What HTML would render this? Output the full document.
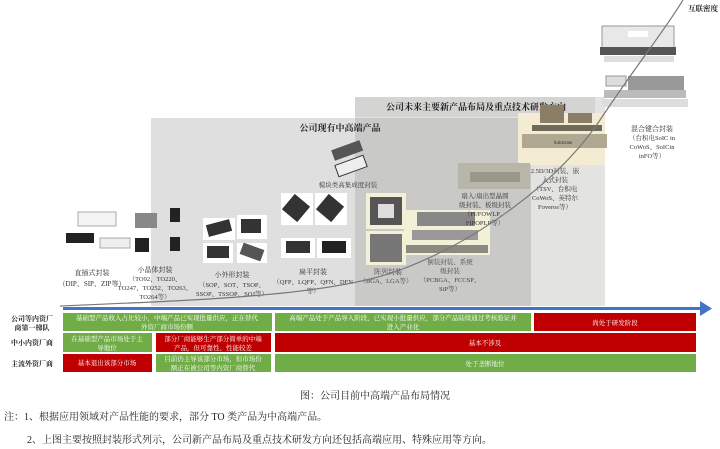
<!DOCTYPE html>
<html><head><meta charset="utf-8"><style>
html,body{margin:0;padding:0;background:#fff;}
svg{display:block;font-family:"Liberation Serif","Noto Serif CJK SC","Noto Sans CJK SC",serif;}
</style></head><body>
<svg width="720" height="449" viewBox="0 0 720 449" xmlns="http://www.w3.org/2000/svg">
<rect x="151" y="118" width="380" height="188" fill="#dedfde"/>
<rect x="355" y="97" width="250" height="209" fill="#e3e3e1"/>
<rect x="355" y="118" width="176" height="188" fill="#c9cac8"/>
<rect x="355" y="97" width="240" height="20" fill="#d4d4d2"/>
<rect x="518" y="113" width="87" height="52" fill="#f3ecd2"/>
<text x="476" y="110" font-size="9" font-weight="bold" text-anchor="middle" fill="#222">公司未来主要新产品布局及重点技术研发方向</text>
<text x="340" y="131" font-size="9" font-weight="bold" text-anchor="middle" fill="#222">公司现有中高端产品</text>

<rect x="78" y="212" width="38" height="14" fill="#f4f4f4" stroke="#aaa"/>
<rect x="66" y="233" width="28" height="10" fill="#222"/>
<rect x="100" y="238" width="30" height="10" fill="#eee" stroke="#aaa"/>
<text x="92" y="275" font-size="7" text-anchor="middle" fill="#333">直插式封装</text>
<text x="92" y="286" font-size="7" text-anchor="middle" fill="#333">（DIP、SIP、ZIP等）</text>
<rect x="135" y="213" width="22" height="15" fill="#888"/>
<rect x="170" y="208" width="10" height="14" fill="#222"/>
<rect x="135" y="238" width="14" height="14" fill="#222"/>
<rect x="170" y="237" width="10" height="14" fill="#222"/>
<text x="155" y="272" font-size="7" text-anchor="middle" fill="#333">小晶体封装</text>
<text x="155" y="281" font-size="6.5" text-anchor="middle" fill="#333">（TO92、TO220、</text>
<text x="155" y="290" font-size="6.5" text-anchor="middle" fill="#333">TO247、TO252、TO263、</text>
<text x="155" y="299" font-size="6.5" text-anchor="middle" fill="#333">TO264等）</text>
<rect x="203" y="218" width="32" height="22" fill="#fff"/>
<rect x="207" y="222" width="24" height="12" fill="#333" transform="rotate(-15 219 228)"/>
<rect x="237" y="215" width="30" height="24" fill="#fff"/>
<rect x="241" y="219" width="20" height="14" fill="#333"/>
<rect x="203" y="243" width="30" height="20" fill="#fff"/>
<rect x="207" y="246" width="22" height="12" fill="#333"/>
<rect x="237" y="243" width="30" height="20" fill="#fff"/>
<rect x="241" y="246" width="22" height="12" fill="#555" transform="rotate(20 252 252)"/>
<text x="232" y="277" font-size="7" text-anchor="middle" fill="#333">小外形封装</text>
<text x="232" y="287" font-size="6.5" text-anchor="middle" fill="#333">（SOP、SOT、TSOP、</text>
<text x="232" y="296" font-size="6.5" text-anchor="middle" fill="#333">SSOP、TSSOP、SOJ等）</text>
<rect x="281" y="193" width="32" height="32" fill="#fff"/>
<rect x="286" y="198" width="20" height="20" fill="#333" transform="rotate(40 296 208)"/>
<rect x="315" y="193" width="32" height="32" fill="#fff"/>
<rect x="320" y="198" width="20" height="20" fill="#333" transform="rotate(40 330 208)"/>
<rect x="281" y="238" width="34" height="20" fill="#fff"/>
<rect x="286" y="241" width="24" height="12" fill="#333"/>
<rect x="317" y="238" width="34" height="20" fill="#fff"/>
<rect x="322" y="241" width="24" height="12" fill="#222"/>
<text x="313" y="274" font-size="7" text-anchor="middle" fill="#333">扁平封装</text>
<text x="313" y="284" font-size="6.5" text-anchor="middle" fill="#333">（QFP、LQFP、QFN、DFN</text>
<text x="313" y="293" font-size="6.5" text-anchor="middle" fill="#333">等）</text>
<rect x="332" y="145" width="30" height="11" fill="#555" transform="rotate(-20 347 150)"/>
<rect x="336" y="160" width="30" height="12" fill="#eee" stroke="#333" transform="rotate(-20 351 166)"/>
<text x="348" y="187" font-size="6.5" text-anchor="middle" fill="#333">模块类高集成度封装</text>
<rect x="366" y="193" width="40" height="36" fill="#f3f0d8"/>
<rect x="370" y="197" width="32" height="28" fill="#555"/>
<rect x="378" y="204" width="16" height="14" fill="#ddd"/>
<rect x="366" y="231" width="40" height="34" fill="#f3f0d8"/>
<rect x="370" y="234" width="32" height="28" fill="#777"/>
<text x="388" y="274" font-size="7" text-anchor="middle" fill="#444">阵列封装</text>
<text x="386" y="283" font-size="6.5" text-anchor="middle" fill="#444">（BGA、LGA等）</text>
<rect x="404" y="210" width="86" height="45" fill="#f3f0d8"/>
<rect x="417" y="212" width="58" height="14" fill="#888"/>
<rect x="412" y="230" width="66" height="10" fill="#999"/>
<rect x="406" y="245" width="82" height="8" fill="#8a8a80"/>
<text x="450" y="264" font-size="6.5" text-anchor="middle" fill="#444">倒装封装、系统</text>
<text x="450" y="273" font-size="6.5" text-anchor="middle" fill="#444">级封装</text>
<text x="450" y="282" font-size="6.5" text-anchor="middle" fill="#444">（PCBGA、FCCSP、</text>
<text x="450" y="291" font-size="6.5" text-anchor="middle" fill="#444">SiP等）</text>
<rect x="458" y="163" width="72" height="26" fill="#b8b6a8"/>
<rect x="470" y="172" width="50" height="10" fill="#9a9888"/>
<text x="485" y="198" font-size="6.5" text-anchor="middle" fill="#333">扇入/扇出型晶圆</text>
<text x="485" y="207" font-size="6.5" text-anchor="middle" fill="#333">级封装、板级封装</text>
<text x="485" y="216" font-size="6.5" text-anchor="middle" fill="#333">（FI/FOWLP、</text>
<text x="485" y="225" font-size="6.5" text-anchor="middle" fill="#333">FIPOPLP等）</text>
<rect x="540" y="105" width="24" height="18" fill="#8a7e66"/>
<rect x="568" y="113" width="24" height="10" fill="#8a7e66"/>
<rect x="532" y="125" width="70" height="6" fill="#6d6a5a"/>
<rect x="522" y="134" width="85" height="14" fill="#b0a890"/>
<text x="563" y="144" font-size="5" text-anchor="middle" fill="#333">Substrate</text>
<text x="555" y="173" font-size="6.5" text-anchor="middle" fill="#333">2.5D/3D封装、嵌</text>
<text x="555" y="182" font-size="6.5" text-anchor="middle" fill="#333">入式封装</text>
<text x="555" y="191" font-size="6.5" text-anchor="middle" fill="#333">（TSV、台积电</text>
<text x="555" y="200" font-size="6.5" text-anchor="middle" fill="#333">CoWoS、英特尔</text>
<text x="555" y="209" font-size="6.5" text-anchor="middle" fill="#333">Foveros等）</text>
<rect x="602" y="26" width="72" height="22" fill="#e8e8e8" stroke="#999"/>
<rect x="628" y="31" width="20" height="6" fill="#fff"/>
<rect x="600" y="47" width="76" height="8" fill="#555"/>
<rect x="604" y="56" width="70" height="6" fill="#ddd"/>
<rect x="606" y="76" width="20" height="10" fill="#ddd" stroke="#999"/>
<rect x="628" y="76" width="56" height="14" fill="#999"/>
<rect x="604" y="90" width="82" height="8" fill="#bbb"/>
<rect x="602" y="99" width="86" height="8" fill="#ddd"/>
<text x="652" y="131" font-size="7" text-anchor="middle" fill="#333">混合键合封装</text>
<text x="652" y="140" font-size="6.5" text-anchor="middle" fill="#333">（台积电SoIC in</text>
<text x="652" y="149" font-size="6.5" text-anchor="middle" fill="#333">CoWoS、SoICin</text>
<text x="652" y="158" font-size="6.5" text-anchor="middle" fill="#333">inFO等）</text>
<text x="703" y="11" font-size="7.5" font-weight="bold" text-anchor="middle" fill="#222">互联密度</text>

<path d="M60 306 C200 300 330 296 400 270 C480 240 560 180 600 120 C640 60 665 30 683 0" fill="none" stroke="#777" stroke-width="1.2"/>
<rect x="63" y="307" width="640" height="3" fill="#4472c4"/>
<polygon points="700,301 712,308.5 700,316" fill="#4472c4"/>

<g font-size="7" text-anchor="middle" font-weight="bold">
<text x="32" y="321" fill="#222">公司等内资厂</text>
<text x="32" y="330" fill="#222">商第一梯队</text>
<text x="32" y="345" fill="#222">中小内资厂商</text>
<text x="32" y="366" fill="#222">主流外资厂商</text>
</g>
<g font-size="6.5" text-anchor="middle">
<rect x="63" y="313" width="209" height="18" fill="#70ad47"/>
<text x="167" y="320" fill="#fff">基础型产品收入占比较小，中端产品已实现批量供应，正在替代</text>
<text x="167" y="329" fill="#fff">外资厂商市场份额</text>
<rect x="275" y="313" width="256" height="18" fill="#70ad47"/>
<text x="403" y="320" fill="#fff">高端产品处于产品导入阶段，已实现小批量供应，部分产品陆续通过考核验证并</text>
<text x="403" y="329" fill="#fff">进入产业化</text>
<rect x="534" y="313" width="162" height="18" fill="#c00000"/>
<text x="615" y="325" fill="#fff">尚处于研发阶段</text>
<rect x="63" y="333" width="89" height="19" fill="#70ad47"/>
<text x="107" y="341" fill="#fff">在基础型产品市场处于主</text>
<text x="107" y="350" fill="#fff">导地位</text>
<rect x="156" y="333" width="115" height="19" fill="#c00000"/>
<text x="213" y="341" fill="#fff">部分厂商能够生产部分简单的中端</text>
<text x="213" y="350" fill="#fff">产品，但可靠性、性能较差</text>
<rect x="275" y="333" width="421" height="19" fill="#c00000"/>
<text x="485" y="345" fill="#fff">基本不涉及</text>
<rect x="63" y="354" width="89" height="18" fill="#c00000"/>
<text x="107" y="365" fill="#fff">基本退出该部分市场</text>
<rect x="156" y="354" width="115" height="18" fill="#70ad47"/>
<text x="213" y="361" fill="#fff">目前仍主导该部分市场，但市场份</text>
<text x="213" y="370" fill="#fff">额正在被公司等内资厂商替代</text>
<rect x="275" y="354" width="421" height="18" fill="#70ad47"/>
<text x="485" y="366" fill="#fff">处于垄断地位</text>
</g>

<text x="300" y="399" font-size="10" fill="#222">图：公司目前中高端产品布局情况</text>
<text x="4" y="420" font-size="10" fill="#222">注：1、根据应用领域对产品性能的要求，部分 TO 类产品为中高端产品。</text>
<text x="27" y="443" font-size="10" fill="#222">2、上图主要按照封装形式列示，公司新产品布局及重点技术研发方向还包括高端应用、特殊应用等方向。</text>
</svg>
</body></html>
